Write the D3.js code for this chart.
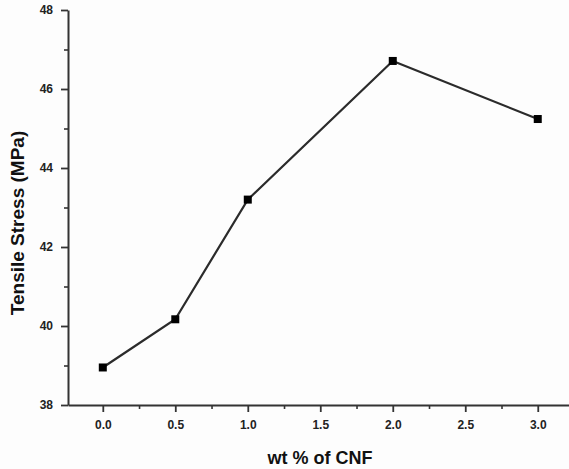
<!DOCTYPE html>
<html>
<head>
<meta charset="utf-8">
<script src="https://cdn.jsdelivr.net/npm/d3@7"></script>
<style>
  body { margin: 0; background: #fdfdfd; }
  svg { display: block; font-family: 'Liberation Sans', Arial, sans-serif; }
  .tick text { font-weight: bold; font-size: 12px; fill: #222; }
  .axis-title { font-weight: bold; font-size: 18px; fill: #111; }
</style>
</head>
<body>
<div id="chart"></div>
<script>
// Data
const wtCNF = [0.0, 0.5, 1.0, 2.0, 3.0];
const tensileStress = [38.95, 40.17, 43.2, 46.71, 45.24];
const xTicks = [0.0, 0.5, 1.0, 1.5, 2.0, 2.5, 3.0];
const xMinorTicks = [0.25, 0.75, 1.25, 1.75, 2.25, 2.75, 3.25];
const yTicks = [38, 40, 42, 44, 46, 48];
const yMinorTicks = [39, 41, 43, 45, 47];

const width = 569;
const height = 469;

const svg = d3.select('#chart').append('svg')
  .attr('width', width)
  .attr('height', height);

// Scales
const x = d3.scaleLinear()
  .domain([-0.24, 3.25])
  .range([68, 574]);

const y = d3.scaleLinear()
  .domain([38, 48])
  .range([405, 10]);

// Minor ticks
svg.append('g')
  .attr('transform', `translate(0, ${y(38)})`)
  .call(d3.axisBottom(x).tickValues(xMinorTicks).tickSize(4).tickFormat(''))
  .call((g) => g.select('.domain').remove())
  .selectAll('line').attr('stroke', '#333').attr('stroke-width', 1.6);

svg.append('g')
  .attr('transform', `translate(${x(-0.24)}, 0)`)
  .call(d3.axisLeft(y).tickValues(yMinorTicks).tickSize(4).tickFormat(''))
  .call((g) => g.select('.domain').remove())
  .selectAll('line').attr('stroke', '#333').attr('stroke-width', 1.6);

// Major axes
const ax = svg.append('g')
  .attr('transform', `translate(0, ${y(38)})`)
  .call(d3.axisBottom(x).tickValues(xTicks).tickSize(7).tickSizeOuter(0).tickPadding(8).tickFormat(d3.format('.1f')));

ax.select('.domain').attr('stroke', '#333').attr('stroke-width', 2);
ax.selectAll('line').attr('stroke', '#333').attr('stroke-width', 1.8);

const ay = svg.append('g')
  .attr('transform', `translate(${x(-0.24)}, 0)`)
  .call(d3.axisLeft(y).tickValues(yTicks).tickSize(7).tickSizeOuter(0).tickPadding(8));

ay.select('.domain').attr('stroke', '#333').attr('stroke-width', 2);
ay.selectAll('line').attr('stroke', '#333').attr('stroke-width', 1.8);

// Line
const points = wtCNF.map((d, i) => ({ wt: d, stress: tensileStress[i] }));

const line = d3.line()
  .x((d) => x(d.wt))
  .y((d) => y(d.stress))
  .curve(d3.curveLinear);

svg.append('path')
  .datum(points)
  .attr('fill', 'none')
  .attr('stroke', '#2b2b2b')
  .attr('stroke-width', 2.2)
  .attr('d', line);

// Markers
svg.selectAll('.marker')
  .data(points)
  .enter()
  .append('rect')
  .attr('class', 'marker')
  .attr('x', (d) => x(d.wt) - 4)
  .attr('y', (d) => y(d.stress) - 4)
  .attr('width', 8)
  .attr('height', 8)
  .attr('fill', '#000');

// Axis titles
svg.append('text')
  .attr('class', 'axis-title')
  .attr('x', 320)
  .attr('y', 464)
  .attr('text-anchor', 'middle')
  .text('wt % of CNF');

svg.append('text')
  .attr('class', 'axis-title')
  .attr('transform', `translate(24, 223) rotate(-90)`)
  .attr('text-anchor', 'middle')
  .style('font-size', '19px')
  .text('Tensile Stress (MPa)');
</script>
</body>
</html>
